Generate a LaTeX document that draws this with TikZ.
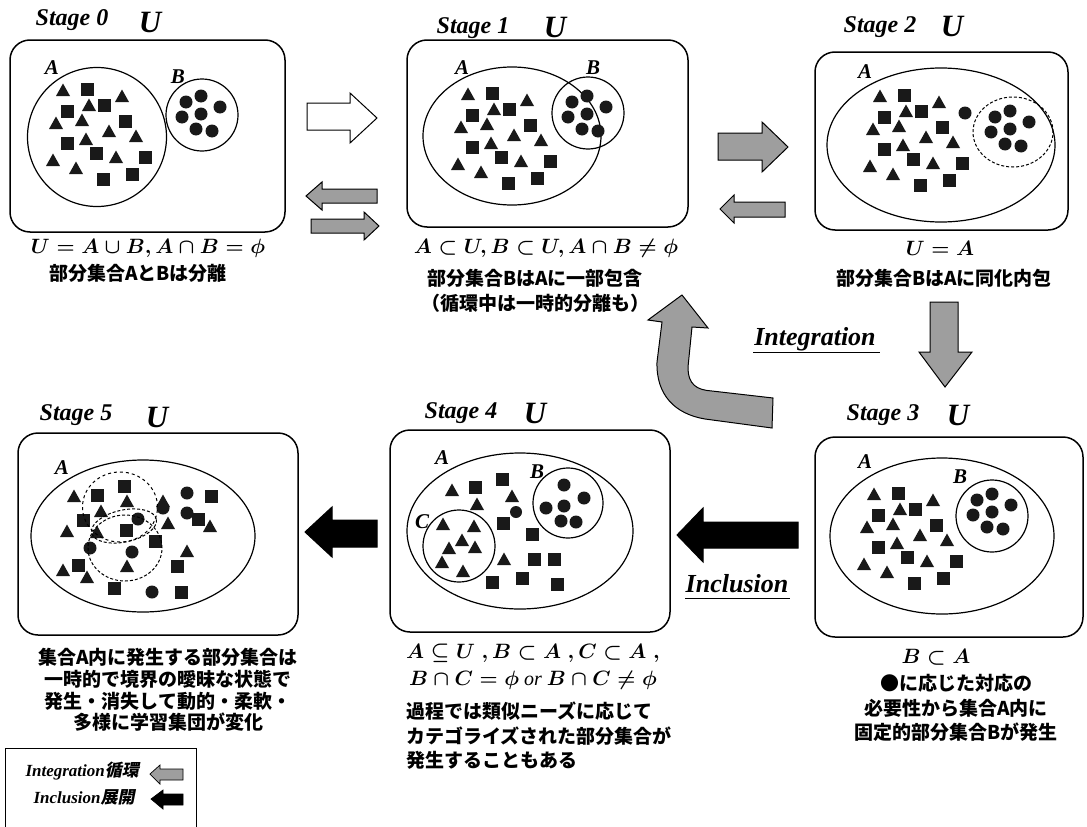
\documentclass[tikz,border=0pt]{standalone}
\usepackage{fontspec}
\setmainfont{Liberation Serif}
\newfontfamily\jp{Noto Sans CJK JP}
\newfontfamily\jpsl{Noto Sans CJK JP}[FakeSlant=0.2]
\newcommand\mytri[2]{\fill[shp] (#1,#2) ++(0,-7.5) -- ++(7,12.5) -- ++(-14,0) -- cycle;}
\newcommand\mysq[2]{\fill[shp] (#1,#2) ++(-6.5,-6.5) rectangle ++(13,13);}
\newcommand\mydot[2]{\fill[shp] (#1,#2) circle[radius=6.5pt];}
\newcommand\patA{%
\mytri{63}{91}\mytri{89}{106}\mytri{122}{97}\mytri{56}{124}\mytri{82}{121}\mytri{109}{132}%
\mytri{136}{137}\mytri{86}{140}\mytri{116}{158}\mytri{53}{161}\mytri{76}{169}%
\mysq{87}{89}\mysq{67}{111}\mysq{104}{105}\mysq{125}{121}\mysq{67}{143}\mysq{96}{153}%
\mysq{145}{157}\mysq{132}{174}\mysq{103}{179}}
\newcommand\patB{%
\mydot{186}{102}\mydot{201}{96}\mydot{220}{107}\mydot{182}{117}\mydot{201}{114}%
\mydot{196}{129}\mydot{212}{131}}
\begin{document}
\begin{tikzpicture}[x=1pt,y=-1pt,
  shp/.style={black!90},
  box/.style={line width=1.5pt, rounded corners=20pt},
  setl/.style={line width=1.2pt},
  stg/.style={font=\fontsize{24}{26}\selectfont\bfseries\itshape},
  ulb/.style={font=\fontsize{31}{33}\selectfont\bfseries\itshape},
  lbl/.style={font=\fontsize{21}{22}\selectfont\bfseries\itshape},
  fml/.style={font=\fontsize{20}{24}\selectfont\boldmath},
  jpt/.style={font=\jp\bfseries\fontsize{19}{24.5}\selectfont, align=center},
  garrow/.style={fill=black!38, draw=black, line width=1pt, line join=miter},
  barrow/.style={fill=black, draw=black, line width=1pt},
  warrow/.style={fill=white, draw=black, line width=1pt},
  ul/.style={font=\fontsize{26}{28}\selectfont\bfseries\itshape}
]
\useasboundingbox (0,0) rectangle (1087,827);
\fill[white] (0,0) rectangle (1087,827);

% ---------- Stage 0
\node[stg] (st0) at (72,20) {Stage 0};
\node[ulb] (u0) at (150,22) {U};
\draw[box] (10,40) rectangle (285,232);
\draw[setl] (97,137) circle[radius=69.5pt];
\draw[setl] (202,115) circle[radius=36pt];
\node[lbl] (a0) at (52,68) {A};
\node[lbl] (b0) at (178,77) {B};
\patA \patB
\node[fml] (f0) at (148,248) {$U=A\cup B, A\cap B=\phi$};
\node[jpt] (j0) at (138,273) {部分集合AとBは分離};

% ---------- Stage 1
\node[stg] (st1) at (473,28) {Stage 1};
\node[ulb] (u1) at (555,27) {U};
\draw[box] (407,40) rectangle (688,227);
\draw[setl] (512,136) ellipse[x radius=89pt, y radius=69pt];
\draw[setl] (588,113) circle[radius=36pt];
\node[lbl] (a1) at (462,68) {A};
\node[lbl] (b1) at (593,68) {B};
\begin{scope}[shift={(405,4)}]\patA\end{scope}
\begin{scope}[shift={(386,0)}]\patB\end{scope}
\node[fml] (f1) at (546,248) {$A\subset U, B\subset U, A\cap B\neq\phi$};
\node[jpt] (j1) at (535,291) {部分集合BはAに一部包含\\（循環中は一時的分離も）};

% ---------- Stage 2
\node[stg] (st2) at (880,27) {Stage 2};
\node[ulb] (u2) at (952,26) {U};
\draw[box] (815,52) rectangle (1068,230);
\draw[setl] (941,145) ellipse[x radius=114pt, y radius=77pt];
\draw[line width=1pt, densely dashed] (1013,132) ellipse[x radius=40pt, y radius=35pt];
\node[lbl] (a2) at (865,72) {A};
\begin{scope}[shift={(817,6)}]\patA\end{scope}
\begin{scope}[shift={(809,15)}]\patB\end{scope}
\mydot{965}{113}
\node[fml] (f2) at (940,248) {$U=A$};
\node[jpt] (j2) at (944,278) {部分集合BはAに同化内包};

% ---------- Stage 3
\node[stg] (st3) at (883,415) {Stage 3};
\node[ulb] (u3) at (958,415) {U};
\draw[box] (815,437) rectangle (1083,637);
\draw[setl] (942,536) ellipse[x radius=112pt, y radius=78pt];
\draw[setl] (992,516) circle[radius=36pt];
\node[lbl] (a3) at (865,462) {A};
\node[lbl] (b3) at (960,477) {B};
\begin{scope}[shift={(811,404)}]\patA\end{scope}
\begin{scope}[shift={(791,398)}]\patB\end{scope}
\node[fml] (f3) at (936,657) {$B\subset A$};
\node[jpt] (j3) at (956,708) {●に応じた対応の\\必要性から集合A内に\\固定的部分集合Bが発生};

% ---------- Stage 4
\node[stg] (st4) at (461,413) {Stage 4};
\node[ulb] (u4) at (535,413) {U};
\draw[box] (390,430) rectangle (670,632);
\draw[setl] (520,531) ellipse[x radius=113pt, y radius=78pt];
\draw[setl] (568,503) circle[radius=35pt];
\draw[setl] (459,546) circle[radius=36pt];
\node[lbl] (a4) at (442,458) {A};
\node[lbl] (b4) at (537,472) {B};
\node[lbl] (c4) at (422,522) {C};
\mytri{452}{491}\mytri{477}{505}\mytri{512}{497}\mytri{504}{560}
\mysq{475}{487}\mysq{502}{479}\mysq{503}{523}\mysq{532}{534}\mysq{534}{559}
\mysq{554}{559}\mysq{492}{582}\mysq{522}{578}\mysq{557}{584}
\fill[shp] (516,512) circle[radius=6pt];
\mytri{443}{525}\mytri{474}{527}\mytri{462}{541}\mytri{449}{549}\mytri{475}{548}
\mytri{442}{563}\mytri{463}{572}
\mydot{564}{485}\mydot{584}{498}\mydot{546}{508}\mydot{564}{506}\mydot{561}{521}\mydot{576}{522}
\node[fml] (f4a) at (533,653) {$A\subseteq U\;, B\subset A\;, C\subset A\;,$};
\node[fml] (f4b) at (533,680) {$B\cap C=\phi$ \textit{or} $B\cap C\neq\phi$};
\node[jpt, align=left, anchor=west] (j4) at (403,736) {過程では類似ニーズに応じて\\カテゴライズされた部分集合が\\発生することもある};

% ---------- Stage 5
\node[stg] (st5) at (76,415) {Stage 5};
\node[ulb] (u5) at (157,417) {U};
\draw[box] (18,433) rectangle (298,635);
\draw[setl] (143,536) ellipse[x radius=112pt, y radius=76pt];
\node[lbl] (a5) at (62,468) {A};
\mytri{74}{497}\mytri{127}{502}\mytri{101}{512}\mytri{163}{502}\mytri{67}{532}\mytri{97}{533}
\mytri{168}{524}\mytri{210}{527}\mytri{187}{552}\mytri{127}{567}\mytri{63}{571}\mytri{87}{578}
\mysq{97}{495}\mysq{124}{486}\mysq{211}{496}\mysq{83}{520}\mysq{126}{530}\mysq{198}{519}
\mysq{155}{541}\mysq{78}{565}\mysq{177}{566}\mysq{114}{588}\mysq{181}{592}
\mydot{187}{493}\mydot{163}{508}\mydot{187}{513}\mydot{138}{519}\mydot{90}{548}\mydot{132}{552}\mydot{152}{592}
\draw[line width=1pt, dashed] (120,507) ellipse[x radius=37.5pt, y radius=35pt];
\draw[line width=1pt, densely dashed, rotate around={12:(124,526)}] (124,526) ellipse[x radius=33pt, y radius=16pt];
\draw[line width=1pt, densely dashed] (125,548) ellipse[x radius=37pt, y radius=33pt];
\node[jpt, font=\jp\bfseries\fontsize{19}{21.7}\selectfont] (j5) at (168,690) {集合A内に発生する部分集合は\\一時的で境界の曖昧な状態で\\発生・消失して動的・柔軟・\\多様に学習集団が変化};

% ---------- block arrows
\draw[warrow] (307,103) -- (350,103) -- (350,93) -- (377,118) -- (350,143) -- (350,130) -- (307,130) -- cycle;
\draw[garrow] (306,196) -- (322,182) -- (322,189) -- (377,189) -- (377,203) -- (322,203) -- (322,210) -- cycle;
\draw[garrow] (311,219) -- (364,219) -- (364,212) -- (379,226) -- (364,240) -- (364,233) -- (311,233) -- cycle;
\draw[garrow] (718,133) -- (762,133) -- (762,122) -- (788,147) -- (762,172) -- (762,160) -- (718,160) -- cycle;
\draw[garrow] (720,209) -- (734,195) -- (734,202) -- (785,202) -- (785,217) -- (734,217) -- (734,223) -- cycle;
\draw[garrow] (930,302) -- (958,302) -- (958,352) -- (972,352) -- (945,387) -- (919,352) -- (930,352) -- cycle;
\draw[barrow] (677,535) -- (703,508) -- (703,522) -- (798,522) -- (798,548) -- (703,548) -- (703,562) -- cycle;
\draw[barrow] (305,532) -- (332,507) -- (332,520) -- (377,520) -- (377,547) -- (332,547) -- (332,557) -- cycle;
\draw[garrow] (682,295) -- (708,328) -- (692,327) -- (688,367) .. controls (688,385) and (697,390) .. (712,391) -- (773,398) -- (772,428) -- (705,419) .. controls (675,414) and (656,395) .. (657,362) -- (662,322) -- (648,320) -- cycle;

\node[ul] (integ) at (815,339) {Integration};
\draw[line width=1pt] (753,352) -- (880,352);
\node[ul] (incl) at (737,584) {Inclusion};
\draw[line width=1pt] (685,598) -- (790,598);

% ---------- legend
\draw[line width=1pt] (5,835) -- (5,748) -- (196,748) -- (196,835);
\node[font=\fontsize{17}{19}\selectfont\bfseries\itshape, anchor=west] (lg1) at (22,771) {Integration{\jpsl 循環}};
\node[font=\fontsize{17}{19}\selectfont\bfseries\itshape, anchor=west] (lg2) at (30,797) {Inclusion{\jpsl 展開}};
\draw[garrow, line width=0.7pt] (150,774) -- (160,765) -- (160,769) -- (183,769) -- (183,780) -- (160,780) -- (160,784) -- cycle;
\draw[barrow, line width=0.7pt] (151,799) -- (163,790) -- (163,794) -- (183,794) -- (183,805) -- (163,805) -- (163,809) -- cycle;
\end{tikzpicture}
\end{document}
